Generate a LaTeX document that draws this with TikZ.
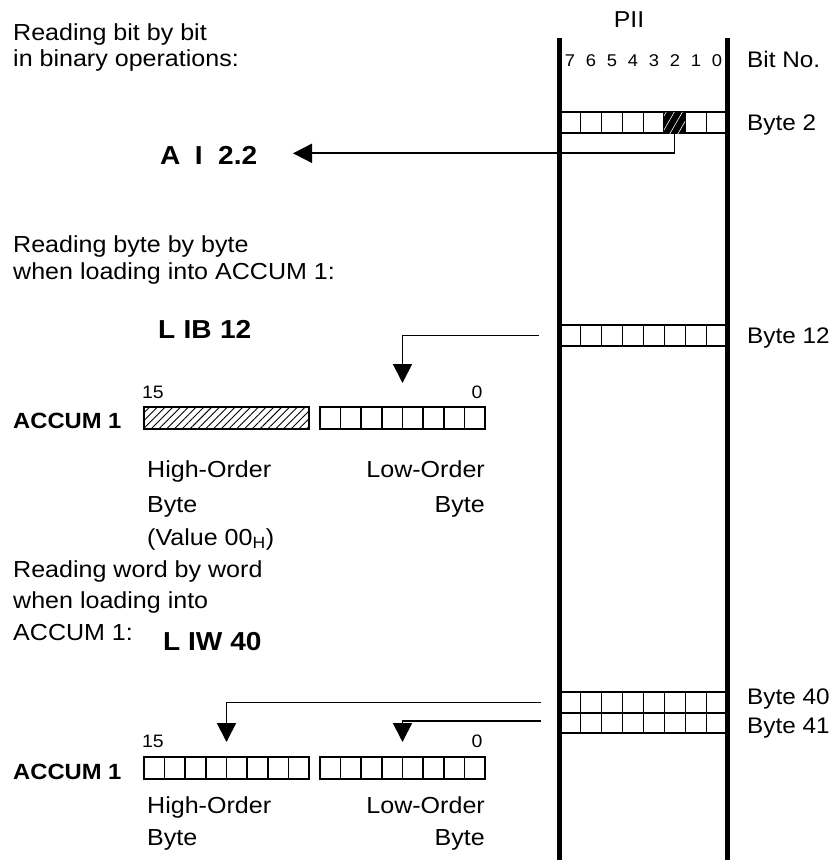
\documentclass[tikz,border=0pt]{standalone}
\usepackage{fontspec}
\setmainfont{Liberation Sans}[FakeStretch=1.08]
\usetikzlibrary{arrows.meta,patterns.meta,calc}
\begin{document}
\begin{tikzpicture}[x=1pt,y=-1pt,
  txt/.style={anchor=base west,inner sep=0pt,font=\fontsize{23.2}{27}\selectfont},
  txtr/.style={anchor=base east,inner sep=0pt,font=\fontsize{23.2}{27}\selectfont},
  txtc/.style={anchor=base,inner sep=0pt,font=\fontsize{23}{27}\selectfont},
  lbl/.style={anchor=base west,inner sep=0pt,font=\fontsize{22.5}{26}\selectfont},
  cmd/.style={anchor=base west,inner sep=0pt,font=\fontsize{26}{30}\selectfont\bfseries},
  accl/.style={anchor=base west,inner sep=0pt,font=\fontsize{22}{26}\selectfont\bfseries},
  num/.style={anchor=base,inner sep=0pt,font=\fontsize{17}{20}\selectfont},
  numb/.style={anchor=base,inner sep=0pt,font=\fontsize{18}{20}\selectfont},
  pcell/.style={draw,line width=1.6pt,minimum width=21pt,minimum height=21pt,inner sep=0pt},
  acell/.style={draw,line width=1.6pt,minimum width=20.625pt,minimum height=22pt,inner sep=0pt},
  rail/.style={line width=4.5pt},
  conn/.style={line width=1.8pt},
  tip/.style={-{Triangle[length=19pt,width=19pt]}}
]
\useasboundingbox (0,0) rectangle (836,860);
\fill[white] (0,0) rectangle (836,860);

% ---------- PII column ----------
\node[txtc] (pii) at (629,27) {PII};
\coordinate (lrtop) at (559.5,38);
\coordinate (lrbot) at (559.5,862);
\coordinate (rrtop) at (727.5,38);
\coordinate (rrbot) at (727.5,862);

\foreach \b [count=\i from 0] in {7,6,5,4,3,2,1,0}
  \node[num] (bn\b) at ({570+21*\i},66) {\b};
\node[lbl] (bitno) at (747,67) {Bit No.};

% Byte 2
\foreach \i in {0,...,7}
  \node[pcell] (r2-\i) at ({570+21*\i},122.5) {};
\node[pcell,fill=black,postaction={pattern={Lines[angle=60,distance=7pt,line width=0.6pt]},pattern color=white}] (bit2) at (674.5,122.5) {};
\node[lbl] (lb2) at (747,130) {Byte 2};

% Byte 12
\foreach \i in {0,...,7}
  \node[pcell] (r12-\i) at ({570+21*\i},335.5) {};
\node[lbl] (lb12) at (747,343) {Byte 12};

% Byte 40 / 41
\foreach \i in {0,...,7}{
  \node[pcell,minimum height=20.5pt] (r40-\i) at ({570+21*\i},702.5) {};
  \node[pcell,minimum height=20.5pt] (r41-\i) at ({570+21*\i},723) {};
}
\node[lbl] (lb40) at (747,704) {Byte 40};
\node[lbl] (lb41) at (747,733) {Byte 41};

\draw[rail] (lrtop) -- (lrbot);
\draw[rail] (rrtop) -- (rrbot);

% ---------- Section 1 ----------
\node[txt] (d1a) at (13,40.5) {Reading bit by bit};
\node[txt] (d1b) at (13,66) {in binary operations:};
\node[cmd] (ai) at (160,164) {A\hspace{0.55em}I\hspace{0.6em}2.2};
\coordinate (aitip) at (293,153.3);
\draw[conn,tip] (bit2.south) |- (aitip);

% ---------- Section 2 ----------
\node[txt] (d2a) at (13,252) {Reading byte by byte};
\node[txt] (d2b) at (13,279) {when loading into ACCUM 1:};
\node[cmd] (lib) at (158,338) {L\hspace{0.32em}IB\hspace{0.32em}12};

\node[numb] (n15a) at (153,398) {15};
\node[numb] (n0a) at (477,398) {0};
\node[accl] (acc1) at (13,428) {ACCUM 1};
\node[draw,line width=1.6pt,minimum width=165pt,minimum height=22pt,inner sep=0pt,
      pattern={Lines[angle=45,distance=5.5pt,line width=0.9pt]}] (hiA) at (226.5,418) {};
\foreach \i in {0,...,7}
  \node[acell] (loA-\i) at ({330.3+20.625*\i},418) {};

\coordinate (s12) at ($(r12-0.west)+(-20,0)$);
\coordinate (t12) at (402.5,383);
\draw[conn,tip] (s12) -| (t12);

\node[txt] (hoA) at (147,477) {High-Order};
\node[txt] (hbA) at (147,512) {Byte};
\node[txt] (hvA) at (147,545) {(Value 00\textsubscript{H})};
\node[txtr] (loAt) at (485,477) {Low-Order};
\node[txtr] (lbA) at (485,512) {Byte};

% ---------- Section 3 ----------
\node[txt] (d3a) at (13,577) {Reading word by word};
\node[txt] (d3b) at (13,608) {when loading into};
\node[txt] (d3c) at (13,640) {ACCUM 1:};
\node[cmd] (liw) at (163,650) {L IW 40};

\node[numb] (n15b) at (153,747) {15};
\node[numb] (n0b) at (477,747) {0};
\node[accl] (acc2) at (13,779) {ACCUM 1};
\foreach \i in {0,...,7}{
  \node[acell] (hiB-\i) at ({154.3+20.625*\i},768) {};
  \node[acell] (loB-\i) at ({330.3+20.625*\i},768) {};
}

\coordinate (s40) at ($(r40-0.west)+(-18,0)$);
\coordinate (s41) at ($(r41-0.west)+(-18,-2)$);
\coordinate (t40) at (226.5,742);
\coordinate (t41) at (402.5,742);
\draw[conn,tip] (s40) -| (t40);
\draw[conn,tip] (s41) -| (t41);

\node[txt] (hoB) at (147,813) {High-Order};
\node[txt] (hbB) at (147,845) {Byte};
\node[txtr] (loBt) at (485,813) {Low-Order};
\node[txtr] (lbB) at (485,845) {Byte};
\end{tikzpicture}
\end{document}
